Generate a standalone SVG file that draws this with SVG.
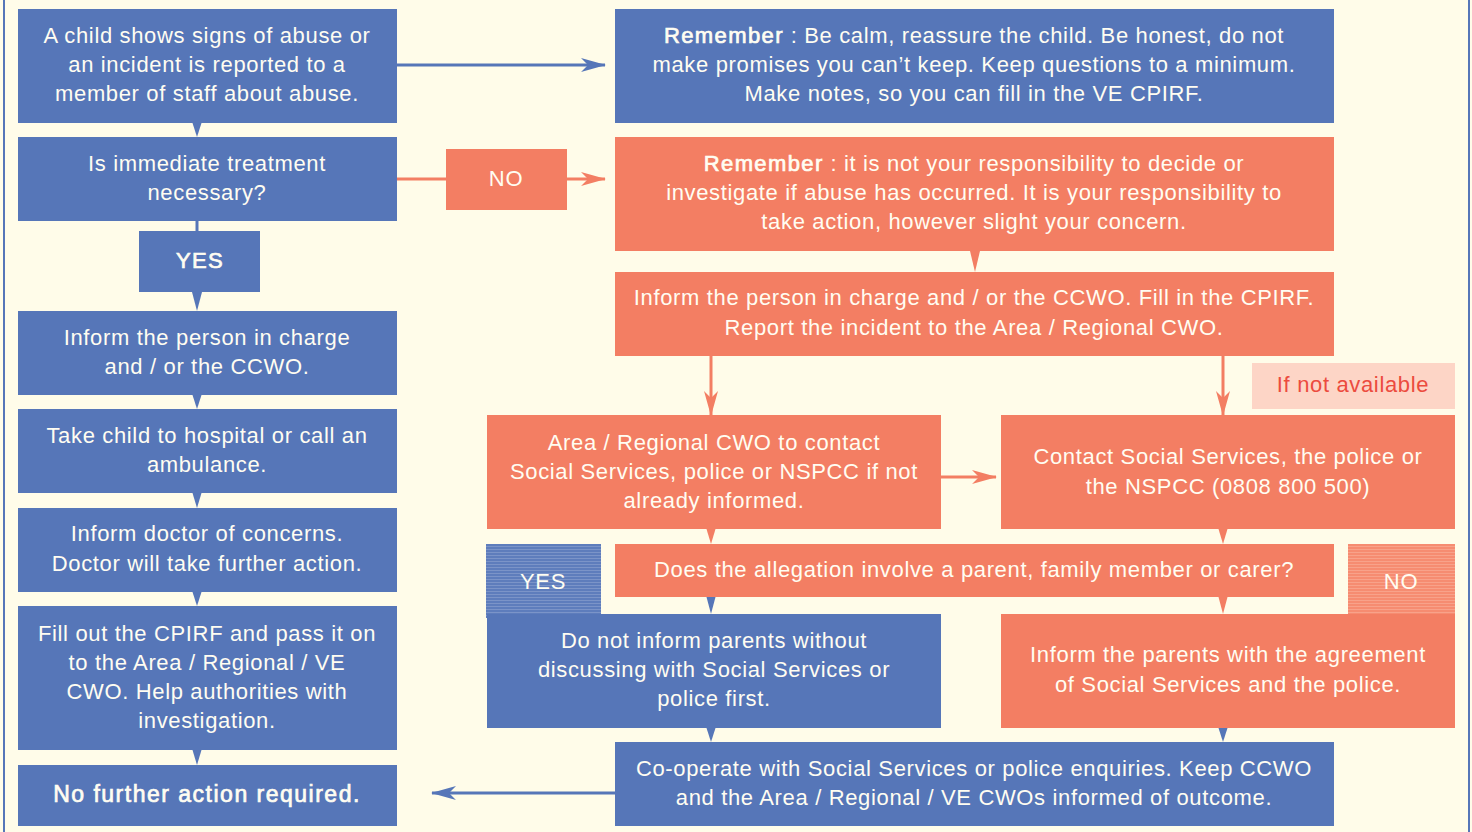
<svg xmlns="http://www.w3.org/2000/svg" width="1472" height="832" viewBox="0 0 1472 832">
<style>
.bg{fill:#fffce9}
.b{fill:#5676b8}
.o{fill:#f37e63}
.t{font-family:"Liberation Sans",Arial,sans-serif;font-size:22px;letter-spacing:0.65px;fill:#fffdf2;text-anchor:middle}
.bd{stroke:#fffdf2;stroke-width:0.7px;letter-spacing:1.4px}
.lb{stroke:#5676b8;stroke-width:3;fill:none}
.lo{stroke:#f37e63;stroke-width:3;fill:none}
.tb{fill:#5676b8}
.to{fill:#f37e63}
</style>
<defs>
<marker id="ab" viewBox="0 0 25 14" refX="24" refY="7" markerWidth="25" markerHeight="14" markerUnits="userSpaceOnUse" orient="auto">
<path d="M0,0 L25,7 L0,14 L7,7 z" fill="#5676b8"/>
</marker>
<marker id="ao" viewBox="0 0 25 14" refX="24" refY="7" markerWidth="25" markerHeight="14" markerUnits="userSpaceOnUse" orient="auto">
<path d="M0,0 L25,7 L0,14 L7,7 z" fill="#f37e63"/>
</marker>
<pattern id="sb" width="4" height="3" patternUnits="userSpaceOnUse">
<rect width="4" height="3" fill="#5e7dbc"/>
<rect width="4" height="1" fill="#7b94c8"/>
</pattern>
<pattern id="so" width="4" height="3" patternUnits="userSpaceOnUse">
<rect width="4" height="3" fill="#f68c71"/>
<rect width="4" height="1" fill="#f8a28a"/>
</pattern>
</defs>
<rect class="bg" x="0" y="0" width="1472" height="832"/>
<line x1="4" y1="0" x2="4" y2="832" stroke="#5676b8" stroke-width="2"/>
<line x1="1469" y1="0" x2="1469" y2="832" stroke="#5676b8" stroke-width="2"/>

<g id="connectors">
<line class="lb" x1="397" y1="65" x2="605" y2="65" marker-end="url(#ab)"/>
<line class="lo" x1="397" y1="179" x2="446" y2="179"/>
<line class="lo" x1="567" y1="179" x2="605" y2="179" marker-end="url(#ao)"/>
<line class="lo" x1="711" y1="356" x2="711" y2="415" marker-end="url(#ao)"/>
<line class="lo" x1="1223" y1="356" x2="1223" y2="415" marker-end="url(#ao)"/>
<line class="lo" x1="941" y1="477" x2="996" y2="477" marker-end="url(#ao)"/>
<line class="lb" x1="615" y1="793" x2="432" y2="793" marker-end="url(#ab)"/>
<line class="lb" x1="197" y1="221" x2="197" y2="231"/>
<polygon class="tb" points="192.5,123 201.5,123 197,137"/>
<polygon class="tb" points="192,292 202,292 197,311"/>
<polygon class="tb" points="192.5,395 201.5,395 197,409"/>
<polygon class="tb" points="192.5,493 201.5,493 197,508"/>
<polygon class="tb" points="192.5,592 201.5,592 197,606"/>
<polygon class="tb" points="192.5,750 201.5,750 197,765"/>
<polygon class="to" points="970,251 980,251 975,272"/>
<polygon class="to" points="706.5,529 715.5,529 711,544"/>
<polygon class="to" points="1218.5,529 1227.5,529 1223,544"/>
<polygon class="tb" points="706.5,597 715.5,597 711,614"/>
<polygon class="to" points="1218.5,597 1227.5,597 1223,614"/>
<polygon class="tb" points="706.5,728 715.5,728 711,742"/>
<polygon class="tb" points="1218.5,728 1227.5,728 1223,742"/>
</g>

<g id="n1"><rect class="b" x="18" y="9" width="379" height="114"/>
<text class="t" x="207" y="43">A child shows signs of abuse or</text>
<text class="t" x="207" y="72">an incident is reported to a</text>
<text class="t" x="207" y="101">member of staff about abuse.</text></g>

<g id="n2"><rect class="b" x="18" y="137" width="379" height="84"/>
<text class="t" x="207" y="171">Is immediate treatment</text>
<text class="t" x="207" y="200">necessary?</text></g>

<g id="yes1"><rect class="b" x="139" y="231" width="121" height="61"/>
<text class="t bd" x="200" y="268">YES</text></g>

<g id="n3"><rect class="b" x="18" y="311" width="379" height="84"/>
<text class="t" x="207" y="345">Inform the person in charge</text>
<text class="t" x="207" y="374">and / or the CCWO.</text></g>

<g id="n4"><rect class="b" x="18" y="409" width="379" height="84"/>
<text class="t" x="207" y="443">Take child to hospital or call an</text>
<text class="t" x="207" y="472">ambulance.</text></g>

<g id="n5"><rect class="b" x="18" y="508" width="379" height="84"/>
<text class="t" x="207" y="541">Inform doctor of concerns.</text>
<text class="t" x="207" y="571">Doctor will take further action.</text></g>

<g id="n6"><rect class="b" x="18" y="606" width="379" height="144"/>
<text class="t" x="207" y="641">Fill out the CPIRF and pass it on</text>
<text class="t" x="207" y="670">to the Area / Regional / VE</text>
<text class="t" x="207" y="699">CWO. Help authorities with</text>
<text class="t" x="207" y="728">investigation.</text></g>

<g id="n7"><rect class="b" x="18" y="765" width="379" height="61"/>
<text class="t bd" x="207" y="802" style="font-size:23px;letter-spacing:1.5px">No further action required.</text></g>

<g id="r1"><rect class="b" x="615" y="9" width="719" height="114"/>
<text class="t" x="974" y="43"><tspan class="bd">Remember</tspan> : Be calm, reassure the child. Be honest, do not</text>
<text class="t" x="974" y="72">make promises you can’t keep. Keep questions to a minimum.</text>
<text class="t" x="974" y="101">Make notes, so you can fill in the VE CPIRF.</text></g>

<g id="no1"><rect class="o" x="446" y="149" width="121" height="61"/>
<text class="t" x="506" y="186">NO</text></g>

<g id="r2"><rect class="o" x="615" y="137" width="719" height="114"/>
<text class="t" x="974" y="171"><tspan class="bd">Remember</tspan> : it is not your responsibility to decide or</text>
<text class="t" x="974" y="200">investigate if abuse has occurred. It is your responsibility to</text>
<text class="t" x="974" y="229">take action, however slight your concern.</text></g>

<g id="r3"><rect class="o" x="615" y="272" width="719" height="84"/>
<text class="t" x="974" y="305">Inform the person in charge and / or the CCWO. Fill in the CPIRF.</text>
<text class="t" x="974" y="335">Report the incident to the Area / Regional CWO.</text></g>

<g id="ifnot"><rect fill="#fdd5c6" x="1252" y="363" width="203" height="46"/>
<text class="t" x="1353" y="392" style="fill:#ec4b3e">If not available</text></g>

<g id="area"><rect class="o" x="487" y="415" width="454" height="114"/>
<text class="t" x="714" y="450">Area / Regional CWO to contact</text>
<text class="t" x="714" y="479">Social Services, police or NSPCC if not</text>
<text class="t" x="714" y="508">already informed.</text></g>

<g id="contact"><rect class="o" x="1001" y="415" width="454" height="114"/>
<text class="t" x="1228" y="464">Contact Social Services, the police or</text>
<text class="t" x="1228" y="494">the NSPCC (0808 800 500)</text></g>

<g id="yes2"><rect fill="url(#sb)" x="486" y="544" width="115" height="74"/>
<text class="t" x="543" y="589">YES</text></g>

<g id="no2"><rect fill="url(#so)" x="1348" y="544" width="107" height="70"/>
<text class="t" x="1401" y="589">NO</text></g>

<g id="q"><rect class="o" x="615" y="544" width="719" height="53"/>
<text class="t" x="974" y="577">Does the allegation involve a parent, family member or carer?</text></g>

<g id="donot"><rect class="b" x="487" y="614" width="454" height="114"/>
<text class="t" x="714" y="648">Do not inform parents without</text>
<text class="t" x="714" y="677">discussing with Social Services or</text>
<text class="t" x="714" y="706">police first.</text></g>

<g id="informp"><rect class="o" x="1001" y="614" width="454" height="114"/>
<text class="t" x="1228" y="662">Inform the parents with the agreement</text>
<text class="t" x="1228" y="692">of Social Services and the police.</text></g>

<g id="coop"><rect class="b" x="615" y="742" width="719" height="84"/>
<text class="t" x="974" y="776">Co-operate with Social Services or police enquiries. Keep CCWO</text>
<text class="t" x="974" y="805">and the Area / Regional / VE CWOs informed of outcome.</text></g>
</svg>
